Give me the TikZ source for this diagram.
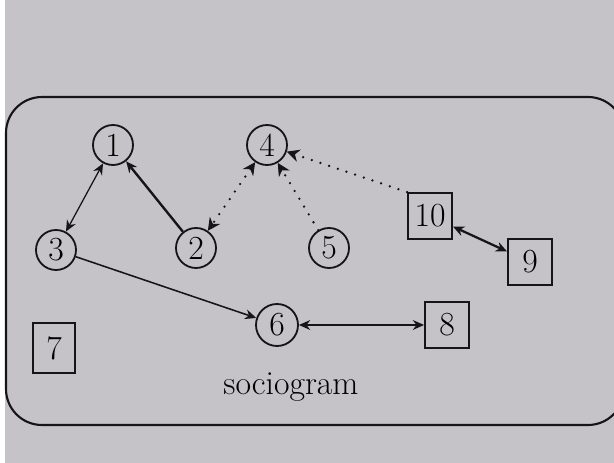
\documentclass[tikz,border=0pt]{standalone}
\usetikzlibrary{arrows.meta}
\definecolor{paper}{RGB}{198,195,200}
\definecolor{ink}{RGB}{22,20,26}
\newcommand{\bigtext}{\fontsize{24}{28}\selectfont}
\begin{document}
\begin{tikzpicture}[
  person/.style={circle,draw=ink,line width=1.3pt,minimum size=1cm,inner sep=0pt,font=\bigtext},
  boxed/.style={rectangle,draw=ink,line width=1.3pt,minimum width=1.1cm,minimum height=1.15cm,inner sep=2pt,font=\bigtext},
  link/.style={draw=ink,-{Stealth[length=8pt,width=7pt]}},
  both/.style={draw=ink,{Stealth[length=8pt,width=7pt]}-{Stealth[length=8pt,width=7pt]}},
  hint/.style={draw=ink,line width=1.8pt,line cap=round,dash pattern=on 0pt off 6.5pt,-{Stealth[length=9pt,width=9pt,line width=0.6pt]}}
]
\useasboundingbox (0,0) rectangle (15.35,11.575);
\fill[paper] (0,0) rectangle (15.35,11.575);
\fill[white] (0,0) rectangle (0.12,11.575);

\draw[ink,line width=1.5pt,rounded corners=0.9cm] (0.15,9.15) rectangle (15.6,0.95);

\node[person] (n1) at (2.825,7.95) {1};
\node[person] (n4) at (6.675,7.95) {4};
\node[person] (n3) at (1.4,5.325) {3};
\node[person] (n2) at (4.9,5.375) {2};
\node[person] (n5) at (8.225,5.375) {5};
\node[person,minimum size=1.05cm] (n6) at (6.925,3.45) {6};
\node[boxed] (n10) at (10.75,6.175) {10};
\node[boxed] (n9) at (13.25,5.025) {9};
\node[boxed] (n8) at (11.175,3.45) {8};
\node[boxed,minimum width=1.05cm,minimum height=1.25cm] (n7) at (1.35,2.875) {7};
\node[font=\bigtext] (title) at (7.275,1.9) {sociogram};

\draw[both,line width=0.9pt] (n1) -- (n3);
\draw[link,line width=1.7pt] (n2) -- (n1);
\draw[link,line width=1.1pt] (n3) -- (n6);
\draw[both,line width=1.6pt] (n6) -- (n8);
\draw[both,line width=1.6pt] (n10) -- (n9);

\draw[hint,{Stealth[length=9pt,width=9pt,line width=0.6pt]}-{Stealth[length=9pt,width=9pt,line width=0.6pt]}] (n4) -- (n2);
\draw[hint] (n5) -- (n4);
\draw[hint] (n10.north west) -- (n4);
\end{tikzpicture}
\end{document}
